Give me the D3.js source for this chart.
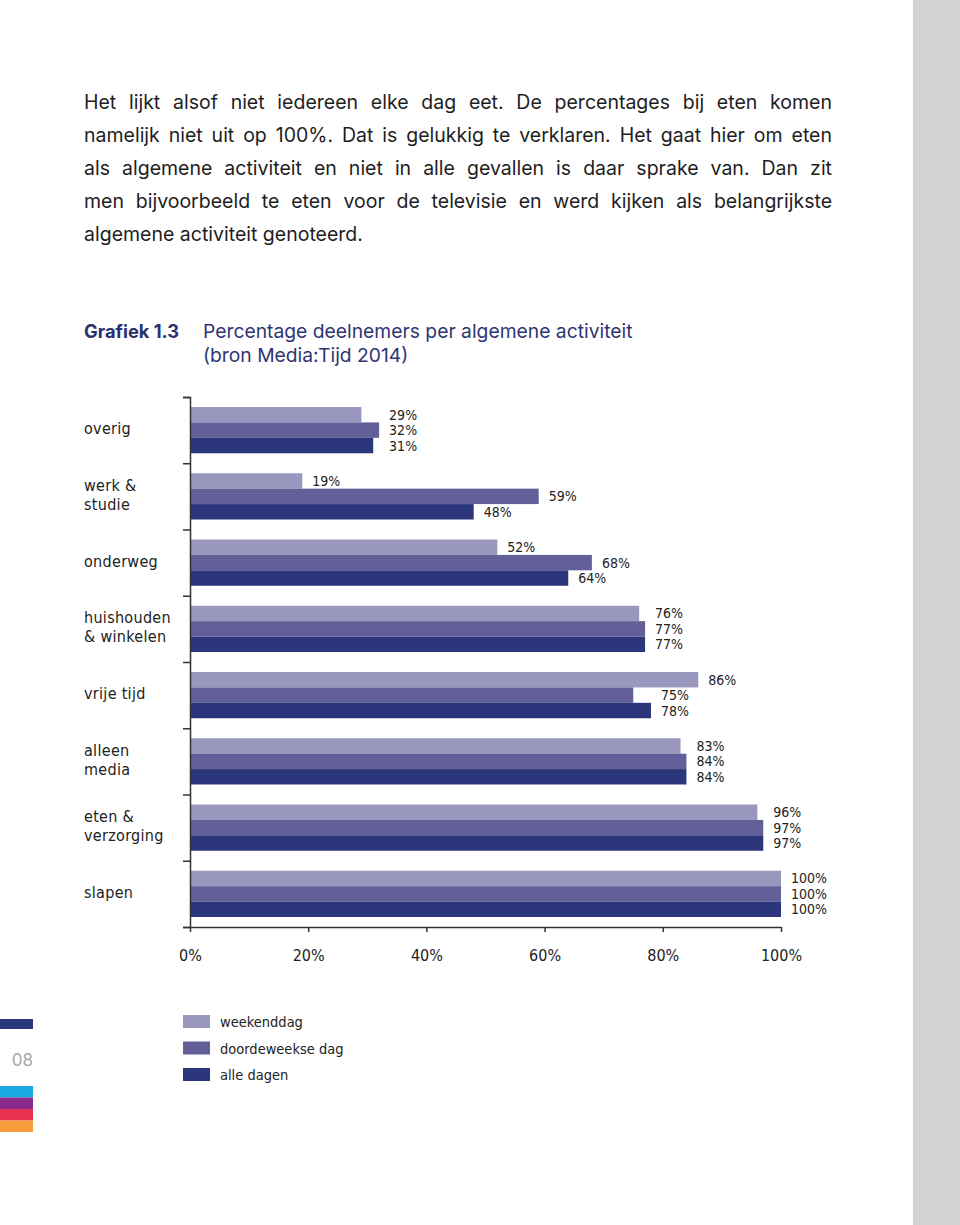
<!DOCTYPE html>
<html>
<head>
<meta charset="utf-8">
<script src="https://cdnjs.cloudflare.com/ajax/libs/d3/7.8.5/d3.min.js"></script>
<style>
  body { margin: 0; background: #fff; }
  svg { display: block; }
</style>
</head>
<body>
<svg width="960" height="1225"></svg>
<script>
// data
var categories = ["overig", "werk & studie", "onderweg", "huishouden & winkelen",
                  "vrije tijd", "alleen media", "eten & verzorging", "slapen"];
var categoryLines = [["overig"], ["werk &", "studie"], ["onderweg"], ["huishouden", "& winkelen"],
                     ["vrije tijd"], ["alleen", "media"], ["eten &", "verzorging"], ["slapen"]];
var series = ["weekenddag", "doordeweekse dag", "alle dagen"];
var weekenddag = [29, 19, 52, 76, 86, 83, 96, 100];
var doordeweekse = [32, 59, 68, 77, 75, 84, 97, 100];
var alleDagen = [31, 48, 64, 77, 78, 84, 97, 100];
var xTicks = [0, 20, 40, 60, 80, 100];

var paragraph = [
  "Het lijkt alsof niet iedereen elke dag eet. De percentages bij eten komen",
  "namelijk niet uit op 100%. Dat is gelukkig te verklaren. Het gaat hier om eten",
  "als algemene activiteit en niet in alle gevallen is daar sprake van. Dan zit",
  "men bijvoorbeeld te eten voor de televisie en werd kijken als belangrijkste",
  "algemene activiteit genoteerd."
];

var colors = ["#9a97bf", "#636099", "#2c367b"];
var narrow = "'DejaVu Sans Condensed', 'Liberation Sans Narrow', sans-serif";
var wide = "Inter, 'Liberation Sans', Arial, sans-serif";

var svg = d3.select("svg");

// grey page strip on the right
svg.append("rect").attr("x", 913).attr("y", 0).attr("width", 47).attr("height", 1225)
    .attr("fill", "#d2d3d5");

// body text, justified by word spacing
var para = svg.append("g").attr("font-family", wide)
    .attr("font-size", 19.5).attr("fill", "#1e1e1e");
paragraph.forEach(function (line, i) {
    var t = para.append("text").attr("x", 84).attr("y", 109 + i * 33).text(line);
    if (i < paragraph.length - 1) {
        var w = t.node().getComputedTextLength();
        var spaces = line.split(" ").length - 1;
        t.attr("word-spacing", (748 - w) / spaces);
    }
});

// chart title
svg.append("text").attr("x", 84).attr("y", 338)
    .attr("font-family", wide).attr("font-size", 18.3)
    .attr("font-weight", "bold").attr("fill", "#2b3170").text("Grafiek 1.3");
svg.append("text").attr("x", 203).attr("y", 338)
    .attr("font-family", wide).attr("font-size", 19.3)
    .attr("fill", "#2f3573").text("Percentage deelnemers per algemene activiteit");
svg.append("text").attr("x", 203).attr("y", 362)
    .attr("font-family", wide).attr("font-size", 19.3)
    .attr("fill", "#2f3573").text("(bron Media:Tijd 2014)");

// scales
var x = d3.scaleLinear().domain([0, 100]).range([190, 781]);
var y = d3.scaleBand().domain(categories).range([397, 927]);
var yInner = d3.scaleBand().domain(series).range([10, y.bandwidth() - 10]);

var table = categories.map(function (c, i) {
    return { cat: c, lines: categoryLines[i], values: [weekenddag[i], doordeweekse[i], alleDagen[i]] };
});

var groups = svg.append("g").selectAll("g")
    .data(table)
    .enter().append("g")
    .attr("transform", function (d) { return "translate(0," + y(d.cat) + ")"; });

groups.selectAll("rect")
    .data(function (d) { return d.values.map(function (v, j) { return { s: series[j], v: v, j: j }; }); })
    .enter().append("rect")
    .attr("x", x(0))
    .attr("y", function (d) { return yInner(d.s); })
    .attr("width", function (d) { return x(d.v) - x(0); })
    .attr("height", yInner.bandwidth())
    .attr("fill", function (d) { return colors[d.j]; });

// value labels: close values in a group share one column
groups.selectAll("text.val")
    .data(function (d) {
        return d.values.map(function (v, j) {
            var near = d3.max(d.values.filter(function (o) { return o >= v && o - v <= 3; }));
            return { s: series[j], v: v, near: near };
        });
    })
    .enter().append("text")
    .attr("class", "val")
    .attr("x", function (d) { return x(d.near) + 10; })
    .attr("y", function (d) { return yInner(d.s) + yInner.bandwidth() / 2 + 5; })
    .attr("font-family", narrow).attr("font-size", 14).attr("fill", "#222")
    .text(function (d) { return d.v + "%"; });

// category labels
groups.each(function (d) {
    var n = d.lines.length;
    var t = d3.select(this).append("text")
        .attr("font-family", narrow).attr("font-size", 16).attr("letter-spacing", 0.3)
        .attr("fill", "#222");
    d.lines.forEach(function (l, k) {
        t.append("tspan").attr("x", 84)
            .attr("y", y.bandwidth() / 2 + 4 + (k - (n - 1) / 2) * 19)
            .text(l);
    });
});

// y axis with ticks between groups
var yLin = d3.scaleLinear().domain([0, categories.length]).range([397, 927]);
var yAxis = svg.append("g").attr("transform", "translate(" + x(0) + ",0)")
    .call(d3.axisLeft(yLin).ticks(categories.length).tickSize(7).tickFormat(""));
yAxis.select(".domain").attr("stroke", "#333").attr("stroke-width", 1.5);
yAxis.selectAll(".tick line").attr("stroke", "#333").attr("stroke-width", 1.5);

// x axis
var xAxis = svg.append("g").attr("transform", "translate(0,927)")
    .call(d3.axisBottom(x).tickValues(xTicks).tickSize(5).tickSizeOuter(0)
        .tickFormat(function (d) { return d + "%"; }));
xAxis.select(".domain").attr("stroke", "#333").attr("stroke-width", 1.5);
xAxis.selectAll(".tick line").attr("stroke", "#333").attr("stroke-width", 1.5);
xAxis.selectAll(".tick text").attr("font-family", narrow).attr("font-size", 16)
    .attr("fill", "#222").attr("dy", 0).attr("y", 34);

// legend
var legend = svg.append("g").selectAll("g")
    .data(series)
    .enter().append("g")
    .attr("transform", function (d, i) { return "translate(183," + (1015 + i * 26.5) + ")"; });
legend.append("rect").attr("width", 27).attr("height", 13)
    .attr("fill", function (d, i) { return colors[i]; });
legend.append("text").attr("x", 37).attr("y", 12)
    .attr("font-family", narrow).attr("font-size", 14.5).attr("fill", "#222")
    .text(function (d) { return d; });

// page marker bottom left
svg.append("rect").attr("x", 0).attr("y", 1019).attr("width", 33).attr("height", 10).attr("fill", "#2c367b");
svg.append("text").attr("x", 33).attr("y", 1066).attr("text-anchor", "end")
    .attr("font-family", wide).attr("font-size", 17)
    .attr("fill", "#a8a8a8").text("08");
var stripes = ["#19a8e0", "#8b2a8d", "#e9304f", "#f79b3d"];
svg.append("g").selectAll("rect").data(stripes).enter().append("rect")
    .attr("x", 0).attr("y", function (d, i) { return 1086 + i * 11.5; })
    .attr("width", 33).attr("height", 11.5).attr("fill", function (d) { return d; });
</script>
</body>
</html>
